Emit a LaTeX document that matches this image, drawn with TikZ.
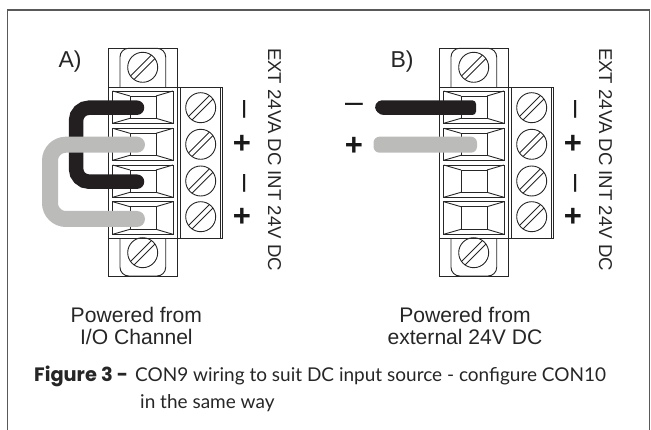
\documentclass[tikz,border=0pt]{standalone}
\usepackage{fontspec}
\setmainfont{Liberation Sans}
\newfontfamily\capfont{Lato}
\newfontfamily\capboldfont[Scale=1.02]{Poppins Bold}
\tikzset{
  partline/.style={draw=black!85,line width=0.9pt},
  wireblack/.style={draw=wblack,line width=14.5pt},
  wiregray/.style={draw=wgray,line width=16pt},
  frameline/.style={draw=black!65,line width=1.6pt},
  sidelabel/.style={font=\fontsize{18.6}{18.6}\selectfont,text=black!85,rotate=-90,anchor=center,inner sep=0pt},
  pluslabel/.style={font=\bfseries\fontsize{31}{31}\selectfont,text=black!90,inner sep=0pt},
  minuslabel/.style={font=\fontsize{32}{32}\selectfont,text=black!90,inner sep=0pt},
  letterlabel/.style={font=\fontsize{23}{23}\selectfont,text=black!85,inner sep=0pt},
  powerlabel/.style={font=\fontsize{21.1}{21.1}\selectfont,text=black!85,inner sep=0pt,anchor=base},
  captext/.style={font=\capfont\fontsize{19}{19}\selectfont,text=black!85,inner sep=0pt,anchor=base west},
}
\definecolor{wblack}{HTML}{231F20}
\definecolor{wgray}{HTML}{BBBBB9}
\newcommand{\screwat}[2]{%
  \draw[partline] (#1,#2) circle (15);
  \begin{scope}
    \clip (#1,#2) circle (15);
    \draw[partline] (#1-15,#2+11.5) -- (#1+11.5,#2-15);
    \draw[partline] (#1-11.5,#2+15) -- (#1+15,#2-11.5);
  \end{scope}}
\newcommand{\cellat}[3]{% x offset, top, bottom
  \draw[partline] (#1+112.7,#2) rectangle (#1+173,#3);
  \draw[partline] (#1+130,#2+5) rectangle (#1+156,#3-5);
  \draw[partline] (#1+112.7,#2) -- (#1+130,#2+5);
  \draw[partline] (#1+173,#2) -- (#1+156,#2+5);
  \draw[partline] (#1+112.7,#3) -- (#1+130,#3-5);
  \draw[partline] (#1+173,#3) -- (#1+156,#3-5);}
\newcommand{\connectorat}[1]{%
  \draw[partline] (#1+108.7,48.3) rectangle (#1+177.3,87);
  \draw[partline,rounded corners=8.7pt] (#1+120,87) -- (#1+120,48.3) -- (#1+165.7,48.3) -- (#1+165.7,87);
  \screwat{#1+142.7}{67.3}
  \draw[partline] (#1+108.7,87) rectangle (#1+177.3,238.3);
  \draw[partline] (#1+180,87) rectangle (#1+222.7,238.3);
  \draw[partline] (#1+177.3,87) -- (#1+180,87);
  \draw[partline] (#1+177.3,238.3) -- (#1+180,238.3);
  \draw[partline] (#1+220,87) -- (#1+220,238.3);
  \cellat{#1}{91}{123.3}
  \cellat{#1}{128.3}{160.3}
  \cellat{#1}{165}{197.3}
  \cellat{#1}{201.7}{234.3}
  \screwat{#1+200.7}{107.7}
  \screwat{#1+200.7}{144.3}
  \screwat{#1+200.7}{181}
  \screwat{#1+200.7}{216.7}
  \draw[partline] (#1+108.7,238.3) rectangle (#1+177.3,276);
  \draw[partline,rounded corners=8.7pt] (#1+120,238.3) -- (#1+120,276) -- (#1+165.7,276) -- (#1+165.7,238.3);
  \screwat{#1+142.7}{252.7}
  \node[sidelabel] at (#1+274.5,159.5) {EXT 24VA DC INT 24V DC};
  \node[minuslabel,rotate=-90] at (#1+241.3,109.5) {–};
  \node[pluslabel] at (#1+242,144.5) {+};
  \node[minuslabel,rotate=-90] at (#1+241.3,183) {–};
  \node[pluslabel] at (#1+242,217.5) {+};}
\begin{document}
\begin{tikzpicture}[x=1pt,y=-1pt]
\useasboundingbox (0,0) rectangle (651,430);
\draw[frameline] (7.5,430) -- (7.5,10) -- (649.5,10) -- (649.5,430);
\connectorat{0}
\connectorat{331}
% wires A
\draw[wireblack,line cap=round,rounded corners=13pt] (137,107.7) -- (76,107.7) -- (76,181.7) -- (137,181.7);
\draw[wiregray,line cap=round,rounded corners=16pt] (137,144.7) -- (50,144.7) -- (50,219) -- (137,219);
% wires B
\fill[wblack,rounded corners=3.5pt] (378,100.4) -- (476,100.4) -- (476,115) -- (380,115) -- (374,108) -- cycle;
\fill[wgray,rounded corners=6pt] (373.5,136.7) rectangle (477,152.7);
% labels
\node[letterlabel] (la) at (70,61.7) {A)};
\node[letterlabel] (lb) at (402,61.7) {B)};
\node[minuslabel] (mb) at (354,107.5) {–};
\node[pluslabel] (pb) at (354,146) {+};
\node[powerlabel] (p1) at (136.4,322.3) {Powered from};
\node[powerlabel] (p2) at (136.4,345) {I/O Channel};
\node[powerlabel] (p3) at (465,322.3) {Powered from};
\node[powerlabel] (p4) at (465,345) {external 24V DC};
\node[captext] (c1) at (34,382) {\makebox[101pt][l]{\capboldfont Figure 3 -}CON9 wiring to suit DC input source - configure CON10};
\node[captext] (c2) at (140,408.5) {in the same way};
\end{tikzpicture}
\end{document}
